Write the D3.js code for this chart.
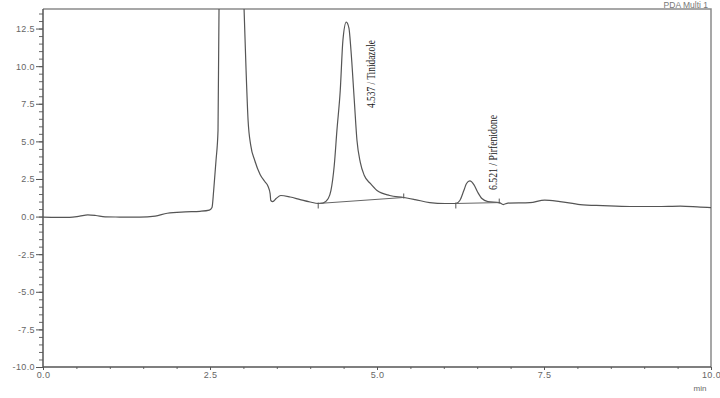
<!DOCTYPE html>
<html>
<head>
<meta charset="utf-8">
<script src="https://cdn.jsdelivr.net/npm/d3@7"></script>
<style>
  body { margin: 0; background: #fff; }
  svg { display: block; }
  .tick text { font-family: "Liberation Sans", Arial, sans-serif; font-size: 9px; fill: #666; letter-spacing: 0.4px; }
</style>
</head>
<body>
<div class="chart"></div>
<script>
// retention time (min) and absorbance
const times = [0, 0.40, 0.55, 0.67, 0.79, 0.93, 1.15, 1.45, 1.68, 1.86, 2.13, 2.35, 2.49, 2.53, 2.555, 2.59, 2.62, 2.635,
  2.82, 3.01, 3.04, 3.07, 3.11, 3.17, 3.25, 3.32, 3.37, 3.40, 3.41, 3.44, 3.49, 3.56, 3.70, 3.85, 4.0, 4.12, 4.19, 4.27,
  4.31, 4.36, 4.40, 4.45, 4.49, 4.54, 4.58, 4.61, 4.66, 4.70, 4.75, 4.81, 4.90, 5.0, 5.19, 5.40, 5.57, 5.79, 6.02, 6.18,
  6.24, 6.30, 6.34, 6.39, 6.45, 6.51, 6.57, 6.66, 6.83, 6.89, 6.96, 7.29, 7.51, 7.74, 8.04, 8.38, 8.79, 9.19, 9.54, 9.84, 10.0];
const signal = [-0.03, -0.05, 0.03, 0.11, 0.07, -0.02, -0.03, -0.04, 0.03, 0.22, 0.31, 0.35, 0.43, 0.6, 1.73, 3.73, 5.73, 13.8,
  30, 13.8, 9.73, 6.4, 4.73, 3.73, 2.8, 2.33, 2.0, 1.53, 1.07, 1.0, 1.2, 1.4, 1.3, 1.13, 0.97, 0.87, 0.9, 1.2,
  1.73, 3.4, 5.73, 8.4, 11.73, 12.93, 12.53, 11.07, 7.73, 5.07, 3.6, 2.73, 2.2, 1.73, 1.4, 1.27, 1.13, 0.93, 0.87, 0.87,
  1.07, 1.73, 2.2, 2.37, 2.13, 1.6, 1.2, 1.0, 0.93, 0.8, 0.9, 0.93, 1.1, 1.0, 0.8, 0.73, 0.67, 0.67, 0.7, 0.63, 0.6];

// integrated peaks: start/end of drawn baseline
const peakNames = ["4.537 / Tinidazole", "6.521 / Pirfenidone"];
const peakStart = [[4.12, 0.87], [6.18, 0.87]];
const peakEnd = [[5.40, 1.27], [6.83, 0.93]];

const xTicks = [0, 2.5, 5, 7.5, 10];
const yTicks = [-10, -7.5, -5, -2.5, 0, 2.5, 5, 7.5, 10, 12.5];

const width = 720, height = 398;
const margin = { top: 9, right: 9, bottom: 31, left: 43 };
const w = width - margin.left - margin.right;
const h = height - margin.top - margin.bottom;

const svg = d3.select(".chart").append("svg")
  .attr("width", width)
  .attr("height", height);

const g = svg.append("g").attr("transform", `translate(${margin.left},${margin.top})`);

const x = d3.scaleLinear().domain([0, 10]).range([0, w]);
const y = d3.scaleLinear().domain([-10, 13.8]).range([h, 0]);

// plain hyphen for negatives, like the instrument software
const fmt = d => d.toFixed(1);

// frame (top and right)
g.append("path")
  .attr("d", `M0,0H${w}V${h}`)
  .attr("fill", "none")
  .attr("stroke", "#8a8a8a")
  .attr("stroke-width", 1.5);

// minor ticks
g.append("g")
  .call(d3.axisLeft(y).tickValues(d3.range(-10, 13.8, 0.5)).tickSize(4).tickFormat(""))
  .call(a => a.selectAll("line").attr("stroke", "#666"))
  .call(a => a.select(".domain").remove());
g.append("g")
  .attr("transform", `translate(0,${h})`)
  .call(d3.axisBottom(x).tickValues(d3.range(0, 10.01, 0.5)).tickSize(2).tickFormat(""))
  .call(a => a.selectAll("line").attr("stroke", "#666"))
  .call(a => a.select(".domain").remove());

// major axes
g.append("g")
  .call(d3.axisLeft(y).tickValues(yTicks).tickSize(7).tickPadding(1).tickFormat(fmt))
  .call(a => a.select(".domain").attr("stroke", "#555").attr("stroke-width", 1.5).attr("d", `M0,0V${h}`))
  .call(a => a.selectAll("line").attr("stroke", "#555"));
g.append("g")
  .attr("transform", `translate(0,${h})`)
  .call(d3.axisBottom(x).tickValues(xTicks).tickSize(3).tickPadding(2).tickFormat(fmt))
  .call(a => a.select(".domain").attr("stroke", "#555").attr("stroke-width", 1.5).attr("d", `M0,0H${w}`))
  .call(a => a.selectAll("line").attr("stroke", "#555"));

svg.append("text")
  .attr("x", 700).attr("y", 391)
  .attr("text-anchor", "middle")
  .attr("font-family", "Liberation Sans, Arial, sans-serif")
  .attr("font-size", 8).attr("fill", "#666")
  .text("min");

svg.append("text")
  .attr("x", 708).attr("y", 8)
  .attr("text-anchor", "end")
  .attr("font-family", "Liberation Sans, Arial, sans-serif")
  .attr("font-size", 8.5).attr("fill", "#777")
  .text("PDA Multi 1");

// trace
svg.append("clipPath").attr("id", "plot")
  .append("rect").attr("width", w).attr("height", h);

const pts = times.map((t, i) => ({ t: t, v: signal[i] }));
const line = d3.line().curve(d3.curveMonotoneX).x(d => x(d.t)).y(d => y(d.v));

const trace = g.append("g").attr("clip-path", "url(#plot)");
trace.append("path")
  .datum(pts)
  .attr("d", line)
  .attr("fill", "none")
  .attr("stroke", "#555")
  .attr("stroke-width", 1.2);

// peak baselines and markers
peakStart.forEach((s, i) => {
  const e = peakEnd[i];
  trace.append("line")
    .attr("x1", x(s[0])).attr("y1", y(s[1]))
    .attr("x2", x(e[0])).attr("y2", y(e[1]))
    .attr("stroke", "#666").attr("stroke-width", 1);
  trace.append("line")
    .attr("x1", x(s[0])).attr("y1", y(s[1]) - 1)
    .attr("x2", x(s[0])).attr("y2", y(s[1]) + 5)
    .attr("stroke", "#555");
  trace.append("line")
    .attr("x1", x(e[0])).attr("y1", y(e[1]) - 4)
    .attr("x2", x(e[0])).attr("y2", y(e[1]) + 1)
    .attr("stroke", "#555");
});

// peak labels, rotated
const labelX = [375, 497];
const labelY = [108, 190];
const labelLen = [68, 75];
peakNames.forEach((name, i) => {
  svg.append("text")
    .attr("transform", `translate(${labelX[i]},${labelY[i]}) rotate(-90)`)
    .attr("font-family", "Liberation Serif, Times New Roman, serif")
    .attr("font-size", 13)
    .attr("fill", "#222")
    .attr("textLength", labelLen[i])
    .attr("lengthAdjust", "spacingAndGlyphs")
    .text(name);
});
</script>
</body>
</html>
